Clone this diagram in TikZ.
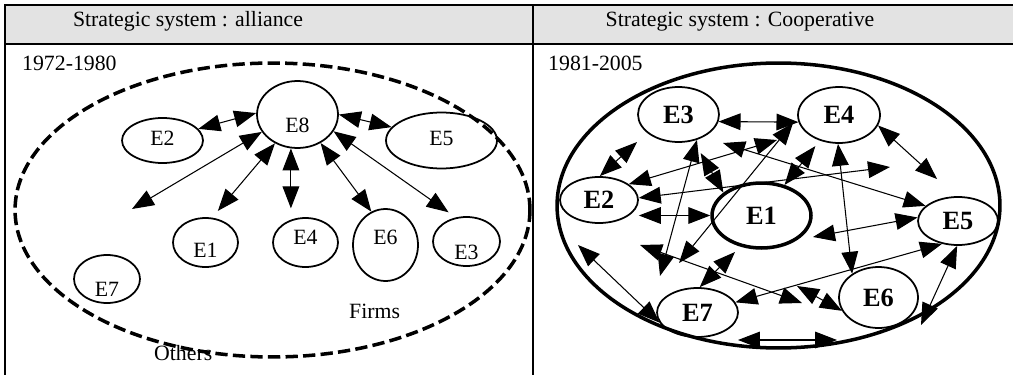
\documentclass[tikz,border=0pt]{standalone}
\usepackage{fontspec}
\setmainfont{Liberation Serif}
\usetikzlibrary{arrows.meta, shapes.geometric}

\definecolor{headgray}{RGB}{227,227,227}

\begin{document}
\begin{tikzpicture}[x=0.02cm, y=-0.02cm, >={Triangle[length=12.5pt, width=9.5pt]},
  every node/.style={font=\fontsize{12.4}{15}\selectfont},
  firm/.style={ellipse, draw, line width=1pt, inner sep=0pt},
  coop/.style={firm, font=\fontsize{15}{18}\selectfont\bfseries},
  link/.style={<->, line width=0.6pt}]
\useasboundingbox (0,0) rectangle (1013,375);

% table frame and header row
\fill[headgray] (5,5) rectangle (1013,44);
\draw[line width=1pt] (1013,5) -- (5,5) -- (5,375);
\draw[line width=1pt] (5,44) -- (1013,44);
\draw[line width=0.8pt] (533,5) -- (533,375);
\node[anchor=base] (head1) at (188,27) {Strategic system : alliance};
\node[anchor=base] (head2) at (740,27) {Strategic system : Cooperative};
\node[anchor=base west] (year1) at (16,71) {1972-1980};
\node[anchor=base west] (year2) at (542,71) {1981-2005};

% alliance: E8 in the middle, the others round it
\draw[line width=2pt, dash pattern=on 7pt off 3pt]
  (272.5,210) ellipse [x radius=5.15cm, y radius=2.94cm];
\foreach \n/\x/\y/\w/\h/\dy in {8/297.5/114.5/1.62/1.34/-6pt, 2/162.5/140.5/1.62/0.90/1.4pt,
    5/441.5/140.5/2.22/1.12/1.4pt, 1/205.5/242.5/1.30/0.98/-4.3pt, 4/305.5/242.5/1.30/0.98/3.1pt,
    6/385.5/245/1.30/1.44/4.5pt, 3/466.5/241.5/1.34/0.98/-6pt, 7/107/279/1.32/0.96/-5.7pt}
  \node[firm, minimum width=\w cm, minimum height=\h cm,
    label={[yshift=\dy]center:E\n}] (e\n) at (\x,\y) {};
\coordinate (a1) at (132,209);
\node[anchor=base west] (firms) at (343,318) {Firms};
\node[anchor=base west] (others) at (148,360) {Others};

\foreach \a/\b in {e8.178/e2.18, e8.206/a1, e8.0/e5.165, e8.309/e6.113}
  \draw[link] (\a) -- (\b);
\foreach \a/\b in {e8.232/e1.75, e8.335/e3.114}
  \draw[link, shorten >=5pt] (\a) -- (\b);
\draw[link, shorten >=5pt] (e8.259) -- (e8.259 |- e4.north);

% cooperative: everybody with everybody
\draw[line width=2pt] (778.5,205.5) ellipse [x radius=4.43cm, y radius=2.85cm];
\foreach \n/\x/\y/\w/\h in {3/678.5/114.5/1.62/1.10, 4/839/115/1.64/1.12, 2/599/200/1.56/0.92,
    5/958/221/1.60/0.96, 6/878.5/297.5/1.58/1.22, 7/697.5/312.5/1.62/0.98}
  \node[coop, minimum width=\w cm, minimum height=\h cm] (c\n) at (\x,\y) {E\n};
\node[coop, line width=2pt, minimum width=1.98cm, minimum height=1.30cm] (c1) at (761.5,215.5) {E1};

\foreach \n/\x/\y in {1/937/179, 2/637/142, 3/777/140, 4/660/276, 5/793/123, 6/679/263,
    7/890/167, 8/813/237, 9/723/143, 10/735/252, 11/578/245, 12/640/245, 13/802/303,
    14/797/286, 15/738/340, 16/837/340, 17/921/325}
  \coordinate (q\n) at (\x,\y);

\foreach \a/\b in {c3.350/c4.190, c4.345/q1, c2.88/q2, c2.28/q3, c3.306/q4, q5/q6,
    c2.3/q7, c5.175/q8, c4.268/c6.138, q9/c5.155, c7.85/q10, q11/c7.195, c7.15/c5.235,
    q12/q13, q14/c6.200, q15/q16, q17/c5.268}
  \draw[link] (\a) -- (\b);
\draw[link, shorten <=8pt] (c3.300) -- (c1.149);
\draw[link, shorten >=4pt] (c1.53) -- (c4.233);
\draw[link] (c1.west -| c2.east) -- (c1.west);
\end{tikzpicture}
\end{document}
